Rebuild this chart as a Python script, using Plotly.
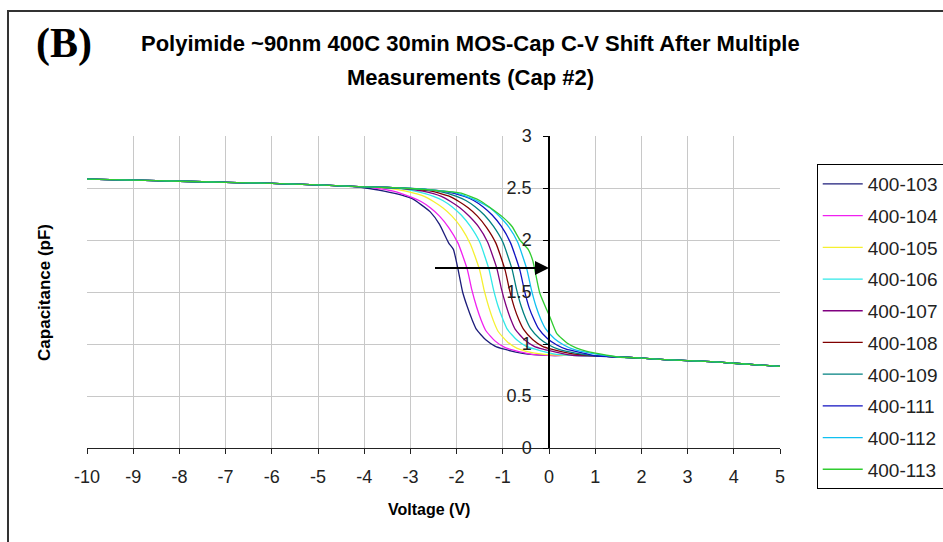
import plotly.graph_objects as go

# ---------------- data ----------------
series_names = ["400-103", "400-104", "400-105", "400-106", "400-107",
                "400-108", "400-109", "400-111", "400-112", "400-113"]
series_colors = ["#1c1c7a", "#f020f0", "#f5f030", "#30e8e8", "#800080",
                 "#800000", "#008080", "#1010c0", "#10c0f0", "#30cc30"]

# common accumulation plateau (left) and depletion tail (right)
left_v = [-10, -9, -8, -7, -6, -5, -4.5, -4, -3.5, -3, -2.5]
left_c = [2.585, 2.575, 2.565, 2.555, 2.545, 2.53, 2.52, 2.51, 2.505, 2.495, 2.48]
right_v = [0, 0.5, 1, 1.5, 2, 2.5, 3, 3.5, 4, 4.5, 5]
right_c = [0.89, 0.89, 0.885, 0.875, 0.865, 0.85, 0.84, 0.83, 0.815, 0.80, 0.785]

# transition regions, one per measurement
v_103 = [-3.97, -3.57, -3.17, -2.97, -2.77, -2.57, -2.37, -2.17, -2.07, -1.97, -1.87, -1.77, -1.67, -1.57, -1.37, -1.17, -0.97, -0.57]
c_103 = [2.50, 2.47, 2.43, 2.40, 2.34, 2.27, 2.15, 1.97, 1.91, 1.72, 1.50, 1.36, 1.24, 1.14, 1.04, 0.98, 0.95, 0.91]
v_104 = [-3.77, -3.37, -2.97, -2.77, -2.57, -2.37, -2.17, -1.97, -1.77, -1.67, -1.57, -1.47, -1.37, -1.17, -0.97, -0.77, -0.37]
c_104 = [2.50, 2.47, 2.41, 2.37, 2.31, 2.23, 2.12, 1.97, 1.72, 1.52, 1.36, 1.23, 1.13, 1.03, 0.97, 0.94, 0.90]
v_105 = [-3.5, -3.1, -2.7, -2.5, -2.3, -2.1, -1.9, -1.7, -1.5, -1.4, -1.3, -1.2, -1.1, -0.9, -0.7, -0.5, -0.1]
c_105 = [2.50, 2.47, 2.42, 2.37, 2.31, 2.23, 2.12, 1.96, 1.71, 1.51, 1.35, 1.22, 1.12, 1.02, 0.96, 0.93, 0.90]
v_106 = [-3.3, -2.9, -2.5, -2.3, -2.1, -1.9, -1.7, -1.5, -1.3, -1.2, -1.1, -1.0, -0.9, -0.7, -0.5, -0.3, 0.1]
c_106 = [2.50, 2.47, 2.42, 2.38, 2.32, 2.24, 2.13, 1.98, 1.72, 1.52, 1.36, 1.24, 1.14, 1.04, 0.98, 0.95, 0.905]
v_107 = [-3.13, -2.73, -2.33, -2.13, -1.93, -1.73, -1.53, -1.33, -1.13, -1.03, -0.93, -0.83, -0.73, -0.53, -0.33, -0.13, 0.27]
c_107 = [2.495, 2.47, 2.42, 2.37, 2.31, 2.23, 2.13, 1.98, 1.73, 1.53, 1.37, 1.24, 1.14, 1.04, 0.98, 0.95, 0.91]
v_108 = [-2.95, -2.55, -2.15, -1.95, -1.75, -1.55, -1.35, -1.15, -0.95, -0.85, -0.75, -0.65, -0.55, -0.35, -0.15, 0.05, 0.45]
c_108 = [2.49, 2.47, 2.42, 2.37, 2.31, 2.23, 2.12, 1.97, 1.71, 1.51, 1.35, 1.23, 1.14, 1.04, 0.98, 0.95, 0.91]
v_109 = [-2.8, -2.4, -2.0, -1.8, -1.6, -1.4, -1.2, -1.0, -0.8, -0.7, -0.6, -0.5, -0.4, -0.2, 0.0, 0.2, 0.6]
c_109 = [2.49, 2.47, 2.42, 2.38, 2.32, 2.24, 2.13, 1.98, 1.72, 1.52, 1.36, 1.24, 1.15, 1.05, 0.99, 0.95, 0.91]
v_111 = [-2.63, -2.23, -1.83, -1.63, -1.43, -1.23, -1.03, -0.83, -0.63, -0.53, -0.43, -0.33, -0.23, -0.03, 0.17, 0.37, 0.77]
c_111 = [2.485, 2.465, 2.42, 2.38, 2.32, 2.24, 2.13, 1.97, 1.71, 1.51, 1.35, 1.24, 1.15, 1.05, 0.99, 0.95, 0.91]
v_112 = [-2.48, -2.08, -1.68, -1.48, -1.28, -1.08, -0.88, -0.68, -0.48, -0.38, -0.28, -0.18, -0.08, 0.12, 0.32, 0.52, 0.92]
c_112 = [2.48, 2.46, 2.40, 2.36, 2.31, 2.23, 2.13, 1.98, 1.72, 1.52, 1.36, 1.24, 1.15, 1.05, 0.99, 0.95, 0.91]
v_113 = [-2.3, -1.9, -1.5, -1.3, -1.0, -0.8, -0.63, -0.45, -0.35, -0.2, -0.05, 0.02, 0.17, 0.39, 0.6, 0.82, 1.1]
c_113 = [2.47, 2.45, 2.38, 2.32, 2.22, 2.13, 2.0, 1.91, 1.80, 1.49, 1.33, 1.26, 1.10, 1.01, 0.96, 0.93, 0.905]

mid_v = [v_103, v_104, v_105, v_106, v_107, v_108, v_109, v_111, v_112, v_113]
mid_c = [c_103, c_104, c_105, c_106, c_107, c_108, c_109, c_111, c_112, c_113]

x_ticks = list(range(-10, 6))
x_tick_text = ["-10", "-9", "-8", "-7", "-6", "-5", "-4", "-3", "-2", "-1",
               "0", "1", "2", "3", "4", "5"]
y_ticks = [0, 0.5, 1, 1.5, 2, 2.5, 3]
y_tick_text = ["0", "0.5", "1", "1.5", "2", "2.5", "3"]

arrow_from_v, arrow_to_v, arrow_c = -2.5, 0.0, 1.73

FONT = "Arial, Liberation Sans, sans-serif"

fig = go.Figure()
for name, col, mv, mc in zip(series_names, series_colors, mid_v, mid_c):
    xs = [v for v in left_v if v < mv[0] - 0.1] + mv + [v for v in right_v if v > mv[-1] + 0.1]
    ys = [c for v, c in zip(left_v, left_c) if v < mv[0] - 0.1] + mc + \
         [c for v, c in zip(right_v, right_c) if v > mv[-1] + 0.1]
    fig.add_trace(go.Scatter(x=xs, y=ys, mode="lines", name=name, legendgroup=name,
                             line=dict(color=col, width=1.3, shape="spline", smoothing=0.5)))

# y axis crosses the x axis at V = 0
ypos = (0 - (-10)) / (5 - (-10))

fig.update_layout(
    width=943, height=542,
    margin=dict(l=87, r=163, t=136, b=94, autoexpand=False),
    paper_bgcolor="white", plot_bgcolor="white",
    font=dict(family=FONT, color="#111111"),
    showlegend=True,
    legend=dict(x=1.053, y=0.91, xanchor="left", yanchor="top",
                bordercolor="black", borderwidth=1, bgcolor="white",
                font=dict(size=19, family=FONT, color="#222222"),
                tracegroupgap=4, itemwidth=40, maxheight=420),
    xaxis=dict(range=[-10, 5], tickmode="array", tickvals=x_ticks, ticktext=x_tick_text,
               showgrid=True, gridcolor="#c8c8c8", gridwidth=1,
               zeroline=False, showline=True, linecolor="#222222", linewidth=1,
               ticks="outside", ticklen=5, tickcolor="#222222",
               tickfont=dict(size=18, color="#222222"), ticklabelstandoff=7),
    yaxis=dict(range=[0, 3], tickmode="array", tickvals=y_ticks, ticktext=y_tick_text,
               anchor="free", position=ypos,
               showgrid=True, gridcolor="#c8c8c8", gridwidth=1,
               zeroline=False, showline=True, linecolor="black", linewidth=1.5,
               ticks="outside", ticklen=5, tickcolor="black",
               tickfont=dict(size=18, color="#222222"), ticklabelstandoff=8),
)

# outer chart border
fig.add_shape(type="rect", xref="paper", yref="paper",
              x0=-0.114, x1=1.3, y0=-0.5, y1=1.4006,
              line=dict(color="#333333", width=2), fillcolor="rgba(0,0,0,0)", layer="above")

# titles and labels
fig.add_annotation(text="<b>Polyimide ~90nm 400C 30min MOS-Cap C-V Shift After Multiple</b>",
                   xref="paper", yref="paper", x=0.5527, y=1.2949, showarrow=False,
                   font=dict(size=22, family=FONT, color="black"), xanchor="center", yanchor="middle")
fig.add_annotation(text="<b>Measurements (Cap #2)</b>", xref="paper", yref="paper",
                   x=0.5527, y=1.186, showarrow=False,
                   font=dict(size=22, family=FONT, color="black"), xanchor="center", yanchor="middle")
fig.add_annotation(text="<b>(B)</b>", xref="paper", yref="paper", x=-0.0332, y=1.298,
                   showarrow=False, xanchor="center", yanchor="middle",
                   font=dict(size=42, family="Liberation Serif, Times New Roman, serif", color="black"))
fig.add_annotation(text="<b>Voltage (V)</b>", xref="paper", yref="paper", x=0.4935, y=-0.196,
                   showarrow=False, xanchor="center", yanchor="middle",
                   font=dict(size=16, family=FONT, color="black"))
fig.add_annotation(text="<b>Capacitance (pF)</b>", xref="paper", yref="paper", x=-0.0606, y=0.497,
                   showarrow=False, textangle=-90, xanchor="center", yanchor="middle",
                   font=dict(size=17, family=FONT, color="black"))

# shift arrow
fig.add_annotation(x=arrow_to_v, y=arrow_c, ax=arrow_from_v, ay=arrow_c,
                   xref="x", yref="y", axref="x", ayref="y", text="",
                   showarrow=True, arrowhead=2, arrowsize=1.4, arrowwidth=2,
                   arrowcolor="black", standoff=0)

fig.write_html("out.html")
